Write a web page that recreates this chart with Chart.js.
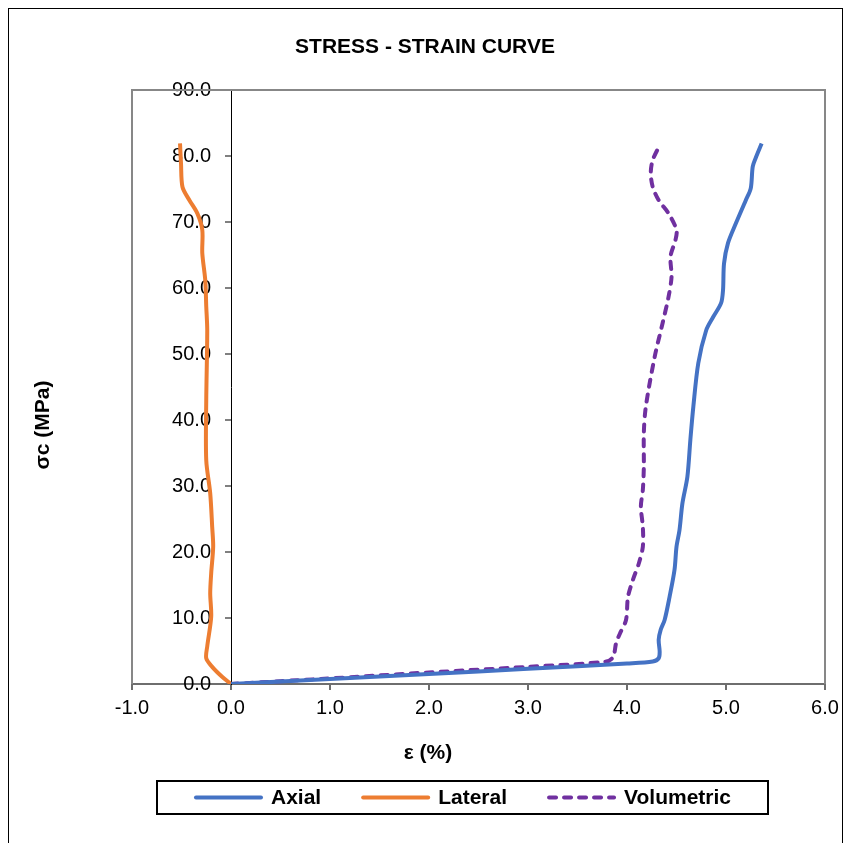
<!DOCTYPE html>
<html>
<head>
<meta charset="utf-8">
<script src="https://cdn.jsdelivr.net/npm/chart.js@4"></script>
<style>
  html, body { margin: 0; padding: 0; background: #fff; }
</style>
</head>
<body>
<canvas id="chart" width="850" height="843"></canvas>
<script>
// strain (%) and stress (MPa)
const axialStrain = [0, 1, 2, 3, 4, 4.26, 4.32, 4.33, 4.32, 4.34, 4.38, 4.43, 4.48, 4.50, 4.53, 4.56, 4.61, 4.64, 4.67, 4.72, 4.80, 4.87, 4.95, 4.97, 4.98, 5.02, 5.10, 5.20, 5.25, 5.27, 5.30, 5.36];
const axialStress = [0, 0.75, 1.5, 2.3, 3.1, 3.4, 3.9, 4.9, 6.7, 8.2, 9.7, 13.2, 17.3, 20.8, 23.3, 27.4, 31.4, 37.0, 42.0, 48.6, 53.6, 55.6, 57.7, 59.7, 63.7, 66.8, 69.8, 73.3, 75.1, 78.4, 79.7, 81.9];

const lateralStrain = [0, -0.09, -0.19, -0.25, -0.24, -0.20, -0.21, -0.20, -0.18, -0.19, -0.21, -0.25, -0.25, -0.24, -0.25, -0.26, -0.29, -0.29, -0.34, -0.42, -0.49, -0.505, -0.515];
const lateralStress = [0, 1.1, 2.6, 3.9, 5.7, 10.2, 13.7, 16.8, 20.8, 23.8, 28.9, 33.9, 43.0, 53.6, 57.2, 61.2, 65.3, 68.8, 71.3, 73.3, 75.3, 78.9, 81.9];

const volStrain = [0, 1, 2, 3, 3.79, 3.86, 3.89, 3.93, 3.99, 4.01, 4.06, 4.12, 4.16, 4.16, 4.14, 4.16, 4.17, 4.17, 4.19, 4.28, 4.36, 4.42, 4.45, 4.44, 4.49, 4.50, 4.42, 4.32, 4.26, 4.24, 4.26, 4.34];
const volStress = [0, 0.85, 1.75, 2.6, 3.4, 4.1, 6.2, 7.7, 9.7, 13.2, 15.8, 18.3, 20.8, 23.8, 26.9, 29.4, 32.9, 38.0, 42.0, 49.6, 54.7, 58.7, 61.7, 64.8, 67.3, 68.8, 71.3, 73.3, 75.3, 77.4, 79.4, 81.9];

const seriesNames = ['Axial', 'Lateral', 'Volumetric'];
const xTicks = [-1, 0, 1, 2, 3, 4, 5, 6];
const yTicks = [0, 10, 20, 30, 40, 50, 60, 70, 80, 90];

function points(xs, ys) {
    return xs.map((x, i) => ({x: x, y: ys[i]}));
}

const FONT = '"Liberation Sans", Arial, sans-serif';

// frame, titles and legend box like the excel export
const decor = {
    id: 'decor',
    beforeDraw(chart) {
        const ctx = chart.ctx;
        ctx.save();
        ctx.fillStyle = '#fff';
        ctx.fillRect(0, 0, chart.width, chart.height);
        ctx.strokeStyle = '#000';
        ctx.lineWidth = 1;
        ctx.strokeRect(8.5, 8.5, 834, 860);
        ctx.restore();
    },
    afterDraw(chart) {
        const ctx = chart.ctx;
        const a = chart.chartArea;
        ctx.save();
        // plot area border (bottom one is the x axis)
        ctx.strokeStyle = '#878787';
        ctx.lineWidth = 2;
        ctx.beginPath();
        ctx.moveTo(a.left, a.bottom);
        ctx.lineTo(a.left, a.top);
        ctx.lineTo(a.right, a.top);
        ctx.lineTo(a.right, a.bottom);
        ctx.stroke();

        ctx.fillStyle = '#000';
        ctx.textAlign = 'center';
        ctx.textBaseline = 'middle';
        ctx.font = 'bold 21px ' + FONT;
        ctx.fillText('STRESS - STRAIN CURVE', 425, 47);
        ctx.fillText('ε (%)', 428, 753);
        ctx.save();
        ctx.translate(43, 425);
        ctx.rotate(-Math.PI / 2);
        ctx.fillText('σc (MPa)', 0, 0);
        ctx.restore();

        // legend
        ctx.strokeStyle = '#000';
        ctx.lineWidth = 2;
        ctx.strokeRect(157, 781, 611, 33);
        const ds = chart.data.datasets;
        const lineLen = 69, gap = 8, spacing = 40;
        let total = 0;
        ds.forEach(d => total += lineLen + gap + ctx.measureText(d.label).width);
        total += spacing * (ds.length - 1);
        let x = 462.5 - total / 2;
        const y = 797.5;
        ds.forEach(d => {
            ctx.save();
            ctx.strokeStyle = d.borderColor;
            ctx.lineWidth = d.borderWidth;
            ctx.lineCap = 'round';
            ctx.setLineDash(d.borderDash || []);
            ctx.beginPath();
            ctx.moveTo(x + 2, y);
            ctx.lineTo(x + lineLen - 2, y);
            ctx.stroke();
            ctx.restore();
            x += lineLen + gap;
            ctx.textAlign = 'left';
            ctx.fillText(d.label, x, y + 1);
            x += ctx.measureText(d.label).width + spacing;
        });
        ctx.restore();
    }
};

new Chart(document.getElementById('chart'), {
    type: 'scatter',
    data: {
        datasets: [
            {
                label: seriesNames[0],
                data: points(axialStrain, axialStress),
                borderColor: '#4472C4',
                borderWidth: 4,
            },
            {
                label: seriesNames[1],
                data: points(lateralStrain, lateralStress),
                borderColor: '#ED7D31',
                borderWidth: 4,
            },
            {
                label: seriesNames[2],
                data: points(volStrain, volStress),
                borderColor: '#7030A0',
                borderWidth: 4,
                borderDash: [7, 8],
                borderCapStyle: 'round',
            },
        ]
    },
    options: {
        responsive: false,
        animation: false,
        showLine: true,
        elements: {
            point: { radius: 0, hoverRadius: 0 },
            line: { tension: 0.3, fill: false }
        },
        layout: {
            padding: { left: 132, right: 25, top: 90, bottom: 117 }
        },
        plugins: {
            legend: { display: false },
            title: { display: false },
            tooltip: { enabled: false }
        },
        scales: {
            x: {
                type: 'linear',
                min: xTicks[0],
                max: xTicks[xTicks.length - 1],
                afterBuildTicks: s => { s.ticks = xTicks.map(v => ({value: v})); },
                ticks: {
                    color: '#000',
                    font: { family: FONT, size: 20 },
                    padding: 6,
                    callback: v => v.toFixed(1)
                },
                grid: {
                    drawOnChartArea: false,
                    tickLength: 6,
                    color: '#6e6e6e',
                    lineWidth: 2
                },
                border: { color: '#6e6e6e', width: 2 }
            },
            y: {
                type: 'linear',
                position: { x: 0 },
                min: yTicks[0],
                max: yTicks[yTicks.length - 1],
                afterBuildTicks: s => { s.ticks = yTicks.map(v => ({value: v})); },
                ticks: {
                    color: '#000',
                    font: { family: FONT, size: 20 },
                    // the label sits right on the axis here, so pad it with a space
                    callback: v => v.toFixed(1) + '\u2003'
                },
                grid: {
                    drawOnChartArea: false,
                    tickLength: 6,
                    color: '#808080',
                    lineWidth: 2
                },
                border: { color: '#000', width: 1 }
            }
        }
    },
    plugins: [decor]
});
</script>
</body>
</html>
